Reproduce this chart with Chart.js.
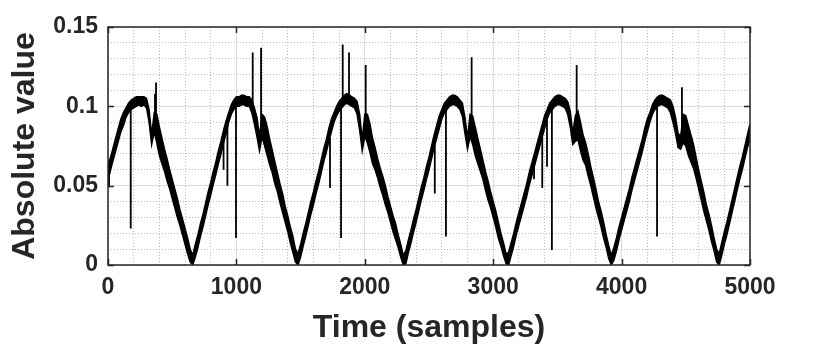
<!DOCTYPE html>
<html>
<head>
<meta charset="utf-8">
<script src="https://cdn.jsdelivr.net/npm/chart.js@4.4.1/dist/chart.umd.min.js"></script>
<style>
  body { margin: 0; background: #fff; }
</style>
</head>
<body>
<canvas id="myChart" width="830" height="347"></canvas>
<script>
// noisy signal read off the picture as an envelope (top / bottom of the black band),
// one value every 20 samples, 0 ... 5000
const sampleStep = 20;
const upper = [
  0.063, 0.068, 0.074, 0.080, 0.086, 0.092, 0.096, 0.099, 0.102, 0.104, 0.105, 0.106, 0.106, 0.106, 0.106, 0.105,
  0.098, 0.082, 0.096, 0.095, 0.087, 0.080, 0.073, 0.067, 0.060, 0.054, 0.048, 0.042, 0.035, 0.029, 0.023, 0.017, 0.010,
  // 660 - 1460
  0.006, 0.013, 0.019, 0.026, 0.032, 0.039, 0.046, 0.052, 0.059, 0.065, 0.072, 0.078, 0.085, 0.091, 0.096, 0.101,
  0.104, 0.106, 0.106, 0.107, 0.107, 0.106, 0.106, 0.104, 0.099, 0.093, 0.081, 0.095, 0.093, 0.087, 0.079, 0.072,
  0.065, 0.058, 0.051, 0.045, 0.037, 0.031, 0.024, 0.018, 0.010,
  // 1480 - 2300
  0.007, 0.013, 0.020, 0.026, 0.033, 0.040, 0.046, 0.053, 0.059, 0.066, 0.073, 0.079, 0.086, 0.092, 0.096, 0.100,
  0.103, 0.105, 0.107, 0.108, 0.107, 0.106, 0.105, 0.103, 0.095, 0.079, 0.095, 0.095, 0.089, 0.080, 0.074, 0.067,
  0.061, 0.056, 0.050, 0.043, 0.037, 0.031, 0.026, 0.019, 0.013, 0.006,
  // 2320 - 3100
  0.009, 0.016, 0.022, 0.029, 0.035, 0.042, 0.049, 0.055, 0.062, 0.068, 0.075, 0.082, 0.088, 0.094, 0.098, 0.102,
  0.104, 0.106, 0.107, 0.107, 0.106, 0.104, 0.102, 0.093, 0.080, 0.095, 0.094, 0.087, 0.080, 0.073, 0.066, 0.059,
  0.053, 0.046, 0.040, 0.034, 0.027, 0.020, 0.014, 0.007,
  // 3120 - 3920
  0.008, 0.014, 0.020, 0.027, 0.033, 0.039, 0.045, 0.051, 0.058, 0.064, 0.070, 0.076, 0.082, 0.088, 0.094, 0.098,
  0.102, 0.104, 0.106, 0.107, 0.107, 0.106, 0.105, 0.103, 0.097, 0.083, 0.094, 0.097, 0.090, 0.082, 0.077, 0.070,
  0.062, 0.055, 0.048, 0.040, 0.034, 0.027, 0.019, 0.012, 0.006,
  // 3940 - 4740
  0.011, 0.017, 0.024, 0.030, 0.036, 0.042, 0.048, 0.055, 0.061, 0.067, 0.073, 0.079, 0.086, 0.092, 0.096, 0.101,
  0.104, 0.106, 0.107, 0.107, 0.106, 0.105, 0.104, 0.100, 0.093, 0.083, 0.081, 0.095, 0.094, 0.088, 0.082, 0.076,
  0.068, 0.060, 0.053, 0.046, 0.038, 0.032, 0.025, 0.017, 0.010,
  // 4760 - 5000
  0.007, 0.014, 0.021, 0.027, 0.034, 0.041, 0.048, 0.055, 0.062, 0.068, 0.075, 0.082, 0.089
];
const lower = [
  0.053, 0.060, 0.066, 0.072, 0.078, 0.084, 0.088, 0.093, 0.096, 0.098, 0.099, 0.100, 0.101, 0.100, 0.101, 0.099,
  0.090, 0.076, 0.084, 0.077, 0.069, 0.064, 0.059, 0.053, 0.048, 0.042, 0.036, 0.030, 0.025, 0.019, 0.013, 0.007, 0.002,
  // 660 - 1460
  0.000, 0.005, 0.011, 0.018, 0.024, 0.031, 0.038, 0.044, 0.051, 0.057, 0.064, 0.070, 0.077, 0.083, 0.090, 0.095,
  0.098, 0.100, 0.100, 0.101, 0.101, 0.100, 0.100, 0.096, 0.089, 0.081, 0.072, 0.081, 0.075, 0.069, 0.063, 0.058,
  0.051, 0.046, 0.039, 0.033, 0.027, 0.021, 0.014, 0.008, 0.002,
  // 1480 - 2300
  0.000, 0.005, 0.012, 0.018, 0.025, 0.032, 0.038, 0.045, 0.051, 0.058, 0.065, 0.071, 0.078, 0.084, 0.090, 0.094,
  0.097, 0.099, 0.101, 0.102, 0.101, 0.100, 0.099, 0.095, 0.085, 0.072, 0.081, 0.077, 0.071, 0.064, 0.060, 0.055,
  0.049, 0.044, 0.038, 0.033, 0.027, 0.021, 0.016, 0.011, 0.005, 0.000,
  // 2320 - 3100
  0.001, 0.008, 0.014, 0.021, 0.027, 0.034, 0.041, 0.047, 0.054, 0.060, 0.067, 0.074, 0.080, 0.086, 0.092, 0.096,
  0.098, 0.100, 0.101, 0.101, 0.100, 0.098, 0.094, 0.083, 0.073, 0.081, 0.076, 0.069, 0.064, 0.059, 0.054, 0.047,
  0.041, 0.036, 0.030, 0.024, 0.017, 0.012, 0.006, 0.001,
  // 3120 - 3920
  0.000, 0.006, 0.012, 0.019, 0.025, 0.031, 0.037, 0.043, 0.050, 0.056, 0.062, 0.068, 0.074, 0.080, 0.086, 0.092,
  0.096, 0.098, 0.100, 0.101, 0.101, 0.100, 0.099, 0.095, 0.087, 0.076, 0.078, 0.079, 0.072, 0.066, 0.063, 0.056,
  0.050, 0.043, 0.036, 0.030, 0.024, 0.017, 0.011, 0.004, 0.000,
  // 3940 - 4740
  0.003, 0.009, 0.016, 0.022, 0.028, 0.034, 0.040, 0.047, 0.053, 0.059, 0.065, 0.071, 0.078, 0.084, 0.090, 0.095,
  0.098, 0.100, 0.101, 0.101, 0.100, 0.099, 0.096, 0.090, 0.083, 0.074, 0.073, 0.077, 0.075, 0.069, 0.065, 0.061,
  0.055, 0.048, 0.041, 0.034, 0.028, 0.022, 0.015, 0.009, 0.002,
  // 4760 - 5000
  0.000, 0.006, 0.013, 0.019, 0.026, 0.033, 0.040, 0.047, 0.054, 0.060, 0.067, 0.074, 0.079
];

// isolated spikes (sample, curve value, tip value)
const spikeSamples = [8, 177, 366, 374, 900, 930, 997, 1127, 1192, 1729, 1815, 1828, 1877, 2007,
  2545, 2632, 2832, 3318, 3382, 3419, 3457, 3650, 4276, 4470];
const spikeFrom = [0.060, 0.100, 0.092, 0.092, 0.080, 0.090, 0.103, 0.100, 0.085, 0.080, 0.100, 0.100, 0.103, 0.088,
  0.078, 0.100, 0.085, 0.065, 0.080, 0.095, 0.100, 0.085, 0.100, 0.085];
const spikeTo = [0.049, 0.023, 0.108, 0.115, 0.060, 0.050, 0.017, 0.134, 0.137, 0.0485, 0.017, 0.139, 0.134, 0.126,
  0.045, 0.018, 0.131, 0.054, 0.0485, 0.062, 0.0095, 0.126, 0.018, 0.112];

const xTicks = [0, 1000, 2000, 3000, 4000, 5000];
const xTickLabels = ["0", "1000", "2000", "3000", "4000", "5000"];
const yTicks = [0, 0.05, 0.1, 0.15];
const yTickLabels = ["0", "0.05", "0.1", "0.15"];

const TXT = "#262626";
const FONT = "'Liberation Sans', Arial, sans-serif";

const upperPts = upper.map((v, i) => ({ x: i * sampleStep, y: v }));
const lowerPts = lower.map((v, i) => ({ x: i * sampleStep, y: v }));
const spikePts = [];
spikeSamples.forEach((s, i) => {
  spikePts.push({ x: s, y: spikeFrom[i] }, { x: s, y: spikeTo[i] }, { x: s, y: null });
});

const isMajorX = v => xTicks.includes(v);
const isMajorY = v => yTicks.some(t => Math.abs(t - v) < 1e-6);

// box + inward tick marks, matlab style
const frame = {
  id: "frame",
  afterDatasetsDraw(chart) {
    const { ctx, chartArea: a, scales } = chart;
    ctx.save();
    ctx.strokeStyle = TXT;
    ctx.lineWidth = 1.5;
    ctx.beginPath();
    xTicks.forEach(v => {
      const px = Math.round(scales.x.getPixelForValue(v)) + 0.5;
      ctx.moveTo(px, a.bottom); ctx.lineTo(px, a.bottom - 6);
      ctx.moveTo(px, a.top); ctx.lineTo(px, a.top + 6);
    });
    yTicks.forEach(v => {
      const py = Math.round(scales.y.getPixelForValue(v)) + 0.5;
      ctx.moveTo(a.left, py); ctx.lineTo(a.left + 6, py);
      ctx.moveTo(a.right, py); ctx.lineTo(a.right - 6, py);
    });
    ctx.stroke();
    ctx.strokeRect(a.left, a.top, a.right - a.left, a.bottom - a.top);
    ctx.restore();
  }
};

new Chart(document.getElementById("myChart").getContext("2d"), {
  type: "line",
  data: {
    datasets: [
      {
        data: upperPts,
        borderColor: "#000",
        borderWidth: 1.5,
        pointRadius: 0,
        tension: 0,
        fill: false
      },
      {
        data: lowerPts,
        borderColor: "#000",
        backgroundColor: "#000",
        borderWidth: 1.5,
        pointRadius: 0,
        tension: 0,
        fill: "-1"
      },
      {
        data: spikePts,
        borderColor: "#000",
        borderWidth: 1.8,
        pointRadius: 0,
        spanGaps: false,
        fill: false
      }
    ]
  },
  options: {
    responsive: false,
    animation: false,
    devicePixelRatio: 1,
    layout: { padding: { top: 27, right: 80, left: 0, bottom: 0 } },
    plugins: { legend: { display: false }, tooltip: { enabled: false } },
    scales: {
      x: {
        type: "linear",
        min: 0, max: 5000,
        afterBuildTicks: s => { s.ticks = xTicks.map(v => ({ value: v })); },
        afterFit: s => { s.height = 82; },
        ticks: {
          color: TXT, padding: 9,
          font: { family: FONT, size: 23, weight: "bold" },
          callback: (v, i) => xTickLabels[i]
        },
        grid: { color: "#dcdcdc", lineWidth: 1, drawTicks: false },
        border: { display: false },
        title: {
          display: true, text: "Time (samples)", color: TXT,
          font: { family: FONT, size: 32, weight: "bold" },
          padding: { top: 0, bottom: 0 }
        }
      },
      xMinor: {
        type: "linear", position: "bottom",
        min: 0, max: 5000,
        afterFit: s => { s.height = 0; },
        ticks: { display: false, stepSize: 200 },
        grid: { color: c => isMajorX(c.tick.value) ? "rgba(0,0,0,0)" : "#b8b8b8", lineWidth: 1, drawTicks: false },
        border: { display: false, dash: [1, 2] }
      },
      y: {
        type: "linear",
        min: 0, max: 0.15,
        afterBuildTicks: s => { s.ticks = yTicks.map(v => ({ value: v })); },
        afterFit: s => { s.width = 108; },
        ticks: {
          color: TXT, padding: 10,
          font: { family: FONT, size: 23, weight: "bold" },
          callback: (v, i) => yTickLabels[i]
        },
        grid: { color: "#dcdcdc", lineWidth: 1, drawTicks: false },
        border: { display: false },
        title: {
          display: true, text: "Absolute value", color: TXT,
          font: { family: FONT, size: 32, weight: "bold" },
          padding: { top: 6, bottom: 0 }
        }
      },
      yMinor: {
        type: "linear", position: "left",
        min: 0, max: 0.15,
        afterFit: s => { s.width = 0; },
        ticks: { display: false, stepSize: 0.01 },
        grid: { color: c => isMajorY(c.tick.value) ? "rgba(0,0,0,0)" : "#b8b8b8", lineWidth: 1, drawTicks: false },
        border: { display: false, dash: [1, 2] }
      }
    }
  },
  plugins: [frame]
});
</script>
</body>
</html>
